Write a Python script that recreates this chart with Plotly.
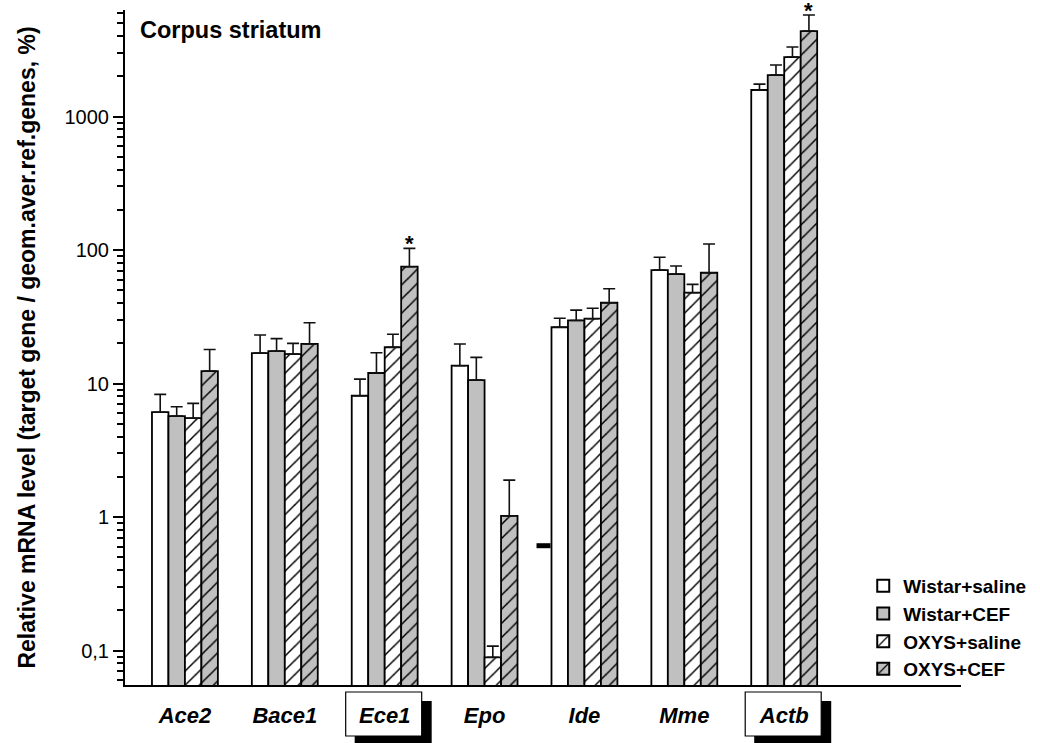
import math
import plotly.graph_objects as go

# ---------------- data ----------------
genes = ["Ace2", "Bace1", "Ece1", "Epo", "Ide", "Mme", "Actb"]
boxed_genes = ["Ece1", "Actb"]
groups = ["Wistar+saline", "Wistar+CEF", "OXYS+saline", "OXYS+CEF"]

wistar_saline = [6.1, 16.9, 8.1, 13.6, 26.4, 70.8, 1580]
wistar_saline_top = [8.3, 23.1, 10.8, 19.8, 30.8, 88.2, 1750]
wistar_cef = [5.7, 17.5, 12.0, 10.6, 29.7, 66.1, 2046]
wistar_cef_top = [6.7, 21.7, 17.0, 15.7, 35.5, 75.9, 2432]
oxys_saline = [5.5, 16.6, 18.7, 0.089, 30.6, 47.9, 2790]
oxys_saline_top = [7.1, 20.0, 23.4, 0.108, 36.6, 55.3, 3315]
oxys_cef = [12.4, 19.8, 75.0, 1.02, 40.3, 67.6, 4368]
oxys_cef_top = [18.0, 28.5, 103.0, 1.89, 51.3, 110.9, 5755]
oxys_cef_sig = ["", "", "*", "", "", "", "*"]

y_tickvals = [0.1, 1, 10, 100, 1000]
y_ticktext = ["0,1", "1", "10", "100", "1000"]

# stray black dash seen in the original figure (next to Epo)
dash_x = [3.52, 3.66]
dash_y = [0.61, 0.61]

# ---------------- styling ----------------
GRAY = "#c0c0c0"
FONT = "Arial, 'Liberation Sans', sans-serif"
series = [
    (groups[0], wistar_saline, wistar_saline_top, "white", ""),
    (groups[1], wistar_cef, wistar_cef_top, GRAY, ""),
    (groups[2], oxys_saline, oxys_saline_top, "white", "/"),
    (groups[3], oxys_cef, oxys_cef_top, GRAY, "/"),
]

x_idx = list(range(len(genes)))
fig = go.Figure()
for name, vals, tops, col, pat in series:
    err = [t - v for v, t in zip(vals, tops)]
    marker = dict(color=col, line=dict(color="black", width=1.8))
    if pat:
        marker["pattern"] = dict(shape=pat, bgcolor=col, fgcolor="black",
                                 size=10, solidity=0.15, fillmode="replace")
    fig.add_trace(go.Bar(
        x=x_idx, y=vals, name=name, marker=marker,
        error_y=dict(type="data", symmetric=False, array=err,
                     arrayminus=[0] * len(err), color="#111111",
                     thickness=1.6, width=6),
    ))

fig.add_trace(go.Scatter(x=dash_x, y=dash_y, mode="lines",
                         line=dict(color="black", width=5),
                         showlegend=False, hoverinfo="skip"))

# significance stars
n = len(groups)
offset = 0.66 / n * 1.5
for i, s in enumerate(oxys_cef_sig):
    if s:
        fig.add_annotation(x=i + offset, y=math.log10(oxys_cef_top[i]),
                           xref="x", yref="y", text="<b>*</b>",
                           showarrow=False, yanchor="bottom", yshift=-10,
                           font=dict(size=22, color="black", family=FONT))

# boxes with shadow around some gene labels
shapes = []
for g in boxed_genes:
    i = genes.index(g)
    shapes.append(dict(type="rect", layer="below", xref="x", yref="paper",
                       xsizemode="pixel", ysizemode="pixel",
                       xanchor=i, yanchor=0,
                       x0=-30, x1=47, y0=-16, y1=-70,
                       fillcolor="black", line=dict(width=0)))
    shapes.append(dict(type="rect", layer="below", xref="x", yref="paper",
                       xsizemode="pixel", ysizemode="pixel",
                       xanchor=i, yanchor=0,
                       x0=-39, x1=37, y0=-7, y1=-51,
                       fillcolor="white", line=dict(color="black", width=1.2)))

fig.add_annotation(x=0.015, y=0.97, xref="paper", yref="paper",
                   text="<b>Corpus striatum</b>", showarrow=False,
                   xanchor="left", yanchor="middle",
                   font=dict(size=23.5, color="black", family=FONT))

fig.update_layout(
    width=1040, height=743, autosize=False,
    margin=dict(l=125, r=78, t=10, b=58),
    paper_bgcolor="white", plot_bgcolor="rgba(0,0,0,0)",
    barmode="group", bargap=0.34, bargroupgap=0,
    font=dict(family=FONT, color="black"),
    shapes=shapes,
    showlegend=True,
    legend=dict(x=0.882, y=0.175, xanchor="left", yanchor="top",
                bgcolor="rgba(0,0,0,0)", borderwidth=0,
                font=dict(size=19, family=FONT, color="black",
                          weight="bold"),
                tracegroupgap=0, itemsizing="constant"),
)

fig.update_xaxes(
    range=[-0.6, 7.77], tickvals=x_idx, ticktext=[f"<b><i>{g}</i></b>" for g in genes],
    showline=True, linecolor="black", linewidth=2, ticks="",
    showgrid=False, zeroline=False, ticklabelstandoff=10,
    tickfont=dict(size=22, family=FONT, color="black"),
)
fig.update_yaxes(
    type="log", range=[-1.258, 3.798],
    tickvals=y_tickvals, ticktext=y_ticktext,
    showline=True, linecolor="black", linewidth=2,
    ticks="outside", ticklen=10, tickwidth=2, tickcolor="black",
    ticklabelstandoff=0,
    minor=dict(ticks="outside", ticklen=6, tickwidth=1.5, tickcolor="black",
               dtick="D1"),
    showgrid=False, zeroline=False,
    tickfont=dict(size=20, family=FONT, color="black"),
    title=dict(text="<b>Relative mRNA level (target gene / geom.aver.ref.genes, %)</b>",
               font=dict(size=23, family=FONT, color="black"), standoff=22),
)

fig.write_html("out.html")
